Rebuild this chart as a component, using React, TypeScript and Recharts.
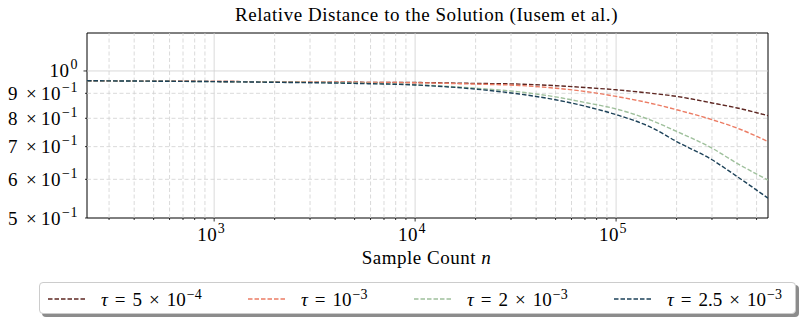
import React from "react";
import { LineChart, Line, XAxis, YAxis, ReferenceLine, ReferenceArea } from "recharts";

const sampleCounts = [233, 500, 1000, 2000, 5000, 10000, 20000, 33000, 50000, 70000, 100000, 150000, 200000, 300000, 400000, 570000];
const tau5e4 = [0.955, 0.953, 0.952, 0.950, 0.948, 0.947, 0.943, 0.940, 0.933, 0.925, 0.915, 0.900, 0.887, 0.860, 0.840, 0.810];
const tau1e3 = [0.955, 0.953, 0.952, 0.950, 0.948, 0.946, 0.940, 0.934, 0.922, 0.908, 0.887, 0.858, 0.833, 0.795, 0.764, 0.717];
const tau2e3 = [0.955, 0.953, 0.951, 0.949, 0.945, 0.937, 0.922, 0.906, 0.885, 0.862, 0.836, 0.792, 0.752, 0.695, 0.647, 0.598];
const tau25e3 = [0.955, 0.953, 0.951, 0.948, 0.943, 0.936, 0.918, 0.897, 0.873, 0.847, 0.814, 0.766, 0.717, 0.658, 0.608, 0.549];

const xMajor = [1000, 10000, 100000];
const xMinor = [300, 400, 500, 600, 700, 800, 900, 2000, 3000, 4000, 5000, 6000, 7000, 8000, 9000,
  20000, 30000, 40000, 50000, 60000, 70000, 80000, 90000, 200000, 300000, 400000, 500000];
const yTicks = [0.5, 0.6, 0.7, 0.8, 0.9, 1];
const X_DOMAIN = [233, 570000];
const Y_DOMAIN = [0.5, 1.196];

const seriesList = [
  { key: "a", color: "#5e2722", mant: "5", exp: "−4", values: tau5e4 },
  { key: "b", color: "#ec7c64", mant: "", exp: "−3", values: tau1e3 },
  { key: "c", color: "#9fc09c", mant: "2", exp: "−3", values: tau2e3 },
  { key: "d", color: "#1d4259", mant: "2.5", exp: "−3", values: tau25e3 },
];

const data = sampleCounts.map((n, i) => {
  const row: any = { n };
  seriesList.forEach((s) => (row[s.key] = s.values[i]));
  return row;
});

const FONT = "'Liberation Serif', 'DejaVu Serif', serif";
const GRID = "#d0d0d0";
const DASH = "4.5 2";

const XTick = (props: any) => {
  const { x, y, payload } = props;
  const major = xMajor.includes(payload.value);
  const exp = Math.round(Math.log10(payload.value));
  return (
    <g>
      <line x1={x} x2={x} y1={y} y2={y + (major ? 3.5 : 2)} stroke="#000" strokeWidth={0.8} />
      {major && (
        <text x={x - 3} y={y + 23} textAnchor="middle" fontFamily={FONT} fontSize={19} letterSpacing={0.5} fill="#000">
          10<tspan dx={0.5} dy={-8} fontSize={14}>{exp}</tspan>
        </text>
      )}
    </g>
  );
};

const YTick = (props: any) => {
  const { x, y, payload } = props;
  const v = payload.value;
  const isOne = v === 1;
  return (
    <g>
      <line x1={x} x2={x - (isOne ? 3.5 : 2)} y1={y} y2={y} stroke="#000" strokeWidth={0.8} />
      <text x={x - 9} y={y + 6.5} textAnchor="end" fontFamily={FONT} fontSize={19} letterSpacing={0.5} fill="#000">
        {isOne ? (
          <tspan>10</tspan>
        ) : (
          <>
            <tspan>{Math.round(v * 10)}</tspan>
            <tspan dx={8}>×</tspan>
            <tspan dx={4}>10</tspan>
          </>
        )}
        <tspan dx={1} dy={-8} fontSize={14}>{isOne ? "0" : "−1"}</tspan>
      </text>
    </g>
  );
};

const Gap = ({ w }: { w: number }) => <span style={{ display: "inline-block", width: w }} />;

const App: React.FC = () => {
  return (
    <div style={{ position: "absolute", left: 0, top: 0, width: 803, height: 325, background: "#fff" }}>
      <div style={{ position: "absolute", left: 0, top: 4, width: 853, textAlign: "center", fontFamily: FONT, fontSize: 19, letterSpacing: 0.55 }}>
        Relative Distance to the Solution (Iusem et al.)
      </div>
      <LineChart width={803} height={325} data={data} margin={{ top: 33, right: 35, bottom: 77, left: 7 }}>
        <XAxis
          dataKey="n"
          type="number"
          scale="log"
          domain={X_DOMAIN}
          allowDataOverflow
          ticks={[...xMajor, ...xMinor]}
          tick={<XTick />}
          tickLine={false}
          axisLine={false}
          tickSize={0}
          tickMargin={0}
          height={30}
          interval={0}
        />
        <YAxis
          type="number"
          scale="log"
          domain={Y_DOMAIN}
          allowDataOverflow
          ticks={yTicks}
          tick={<YTick />}
          tickLine={false}
          axisLine={false}
          tickSize={0}
          tickMargin={0}
          width={80}
          interval={0}
        />
        {xMinor.map((v) => (
          <ReferenceLine key={"xm" + v} x={v} stroke={GRID} strokeDasharray="4 2.5" strokeWidth={0.8} />
        ))}
        {xMajor.map((v) => (
          <ReferenceLine key={"xM" + v} x={v} stroke={GRID} strokeWidth={0.8} />
        ))}
        {yTicks.filter((v) => v > 0.5 && v < 1).map((v) => (
          <ReferenceLine key={"ym" + v} y={v} stroke={GRID} strokeDasharray="4 2.5" strokeWidth={0.8} />
        ))}
        <ReferenceLine y={1} stroke={GRID} strokeWidth={0.8} />
        {seriesList.map((s) => (
          <Line
            key={s.key}
            dataKey={s.key}
            type="monotone"
            stroke={s.color}
            strokeWidth={1.4}
            strokeDasharray={DASH}
            dot={false}
            isAnimationActive={false}
          />
        ))}
        <ReferenceArea x1={X_DOMAIN[0]} x2={X_DOMAIN[1]} y1={Y_DOMAIN[0]} y2={Y_DOMAIN[1]} fill="none" stroke="#000" strokeWidth={1} />
      </LineChart>
      <div style={{ position: "absolute", left: 0, top: 247, width: 853, textAlign: "center", fontFamily: FONT, fontSize: 19, letterSpacing: 0.5 }}>
        Sample Count <i>n</i>
      </div>
      <div
        style={{
          position: "absolute",
          left: 39,
          top: 282,
          width: 755,
          height: 30,
          border: "1px solid #cccccc",
          borderRadius: 4,
          boxShadow: "3px 3px 0 #8c8c8c",
          background: "#fff",
          fontFamily: FONT,
          fontSize: 19,
        }}
      >
        {seriesList.map((s, i) => {
          const lefts = [7, 207, 373, 573];
          return (
            <div key={s.key} style={{ position: "absolute", left: lefts[i], top: 4, display: "flex", alignItems: "center", whiteSpace: "nowrap" }}>
              <svg width={40} height={20}>
                <line x1={1} x2={39} y1={10} y2={10} stroke={s.color} strokeWidth={1.4} strokeDasharray={DASH} />
              </svg>
              <span style={{ marginLeft: 14 }}>
                <i>τ</i>
                <Gap w={7} />=<Gap w={7} />
                {s.mant ? (
                  <>
                    {s.mant}
                    <Gap w={7} />×<Gap w={7} />
                  </>
                ) : null}
                10<sup style={{ fontSize: 14, marginLeft: 1 }}>{s.exp}</sup>
              </span>
            </div>
          );
        })}
      </div>
    </div>
  );
};

export default App;
